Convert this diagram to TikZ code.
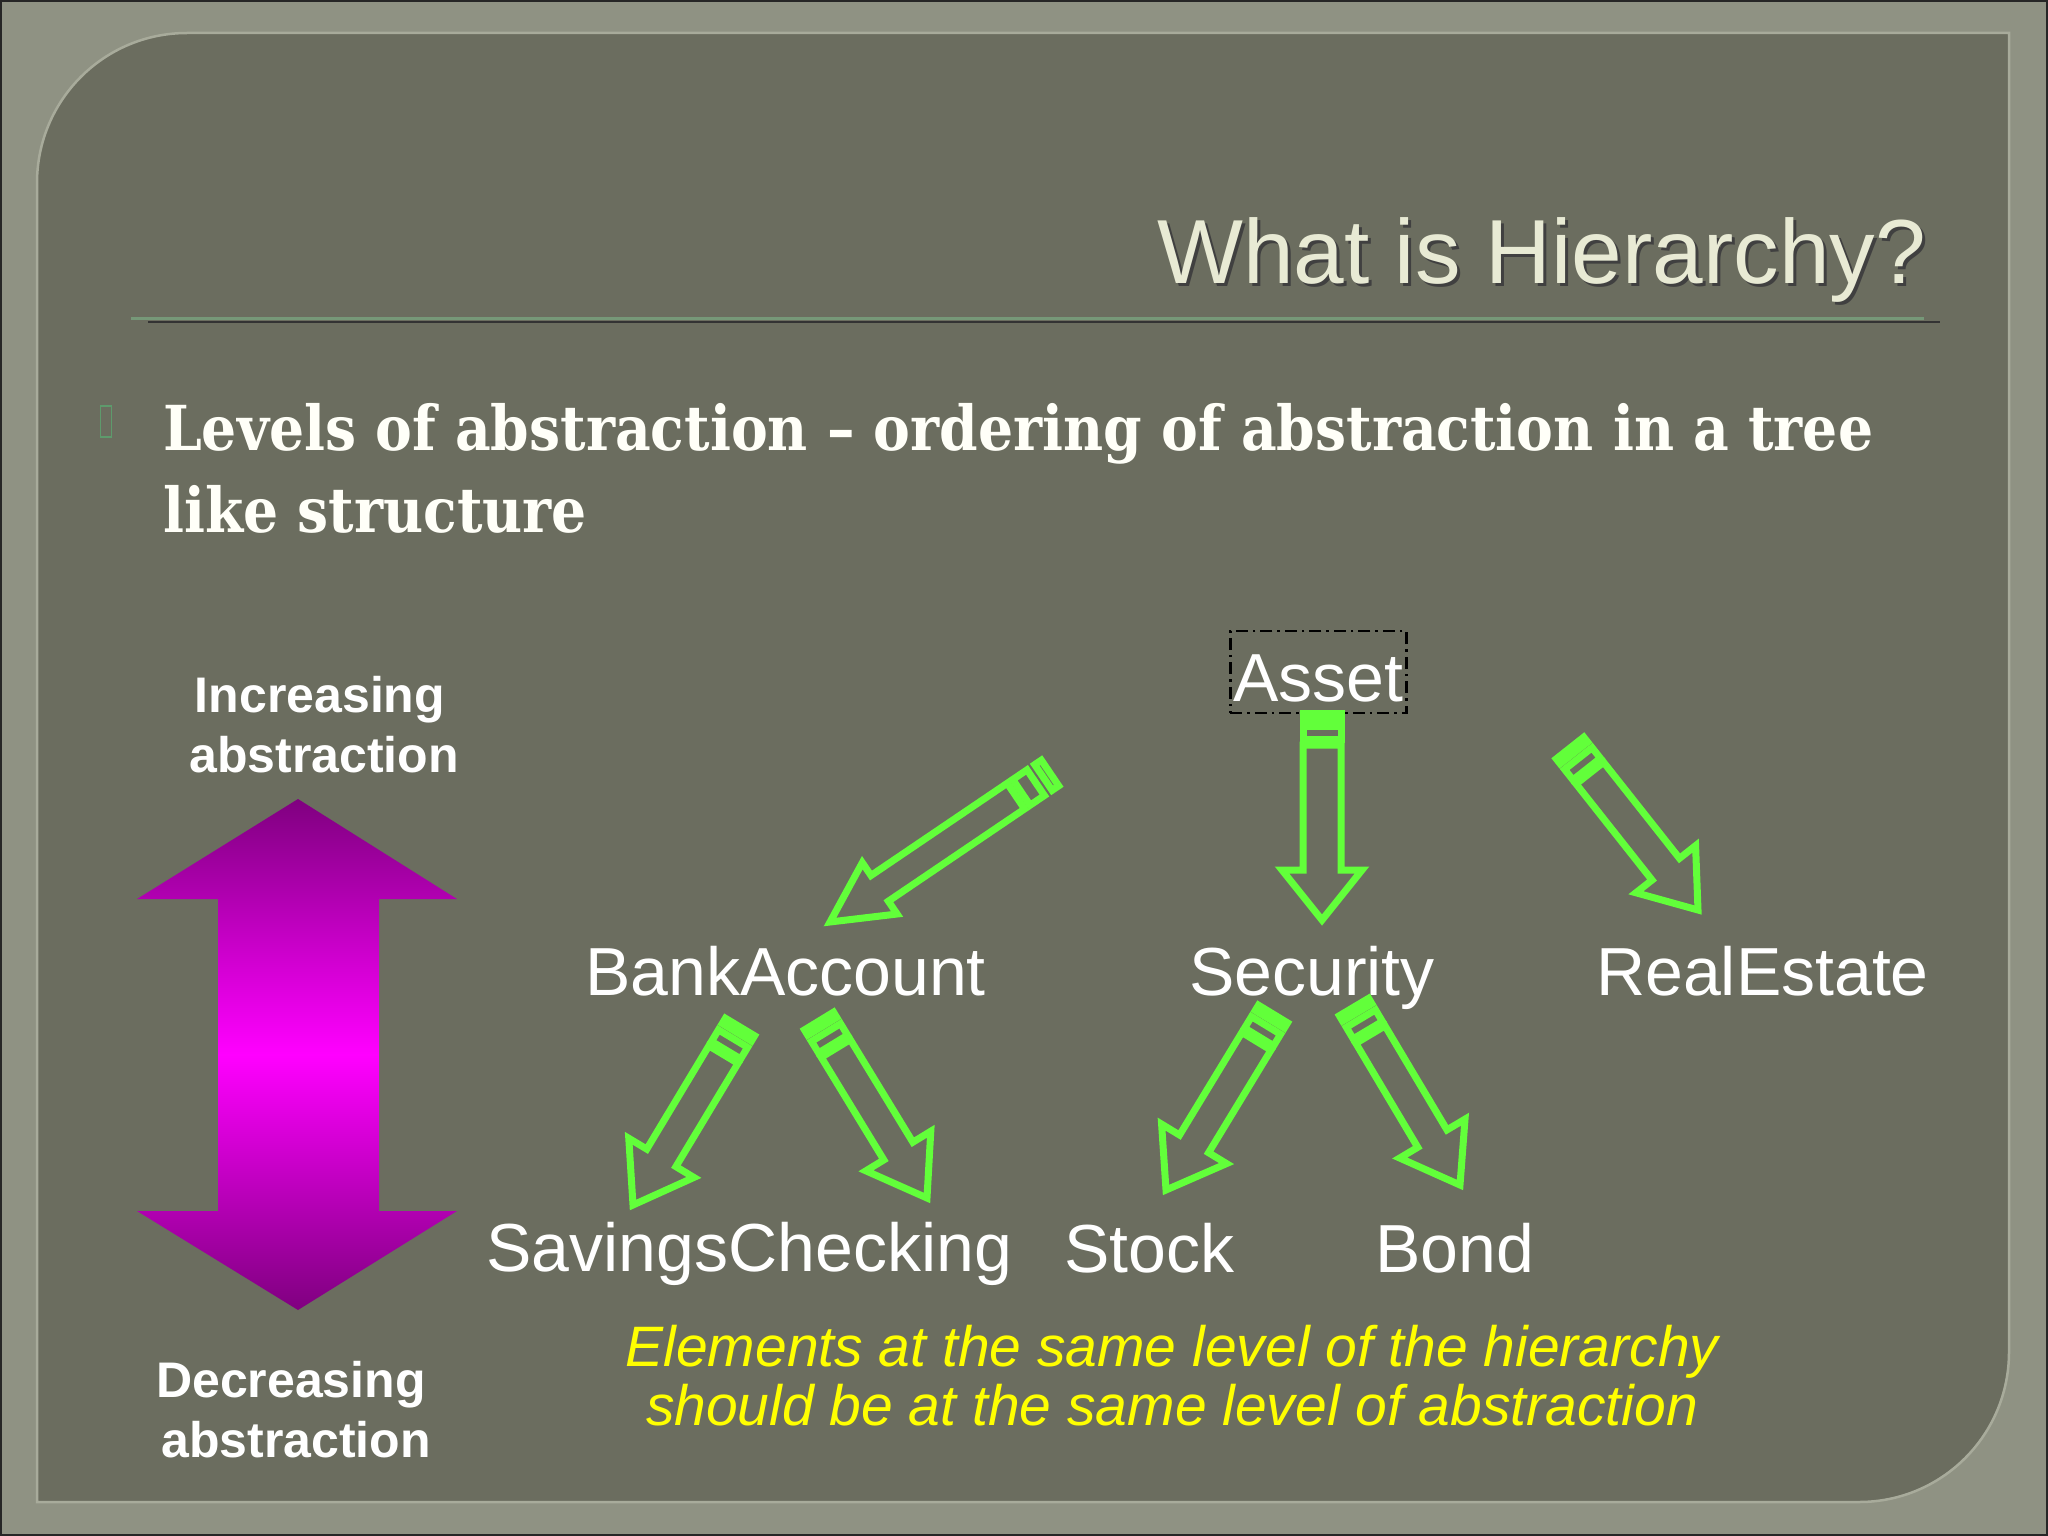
\documentclass[tikz,border=0pt]{standalone}
\usepackage{fontspec}
\setmainfont{Liberation Sans}
\newfontfamily\bodyfont[FakeStretch=0.89]{DejaVu Serif}
\definecolor{outerbg}{RGB}{143,146,131}
\definecolor{panelbg}{RGB}{107,109,95}
\definecolor{paneledge}{RGB}{168,171,155}
\definecolor{titlecol}{RGB}{232,234,212}
\definecolor{rulegreen}{RGB}{118,152,120}
\definecolor{bulletgreen}{RGB}{94,154,108}
\definecolor{arrowgreen}{RGB}{98,255,58}
\definecolor{pdark}{RGB}{128,0,128}
\definecolor{pmid}{RGB}{255,0,255}
\definecolor{yellowtxt}{RGB}{255,255,0}
\newcommand\garrow[5]{%
  \pgfpointanchor{#1}{center}\pgfgetlastxy{\gax}{\gay}%
  \pgfpointanchor{#2}{center}\pgfgetlastxy{\gbx}{\gby}%
  \pgfmathsetmacro\gang{atan2(\gby-\gay,\gbx-\gax)}%
  \pgfmathsetmacro\glen{veclen(\gbx-\gax,\gby-\gay)}%
  \begin{scope}[shift={(#1)},rotate=\gang,x=1pt,y=1pt]
    \draw[garrowline] (0,-#3) rectangle ({0.03*\glen},#3);
    \draw[garrowline] ({0.065*\glen},-#3) rectangle ({0.13*\glen},#3);
    \draw[garrowline] ({0.155*\glen},-#3) -- ({\glen-#5},-#3) -- ({\glen-#5},-#4)
      -- (\glen,0) -- ({\glen-#5},#4) -- ({\glen-#5},#3) -- ({0.155*\glen},#3) -- cycle;
  \end{scope}}
\tikzset{
  garrowline/.style={draw=arrowgreen,line width=7pt,line join=miter},
  treelabel/.style={font=\fontsize{68}{80}\selectfont,text=white,inner sep=0pt,anchor=base west},
  sidelabel/.style={font=\fontsize{50}{60}\selectfont\bfseries,text=white,inner sep=0pt,anchor=base},
  notelabel/.style={font=\fontsize{57}{66}\selectfont\itshape,text=yellowtxt,inner sep=0pt,anchor=base},
  bodytext/.style={font=\fontsize{62}{72}\selectfont\bodyfont\bfseries,text={rgb,255:red,255;green,255;blue,248},inner sep=0pt,anchor=base west},
}
\begin{document}
\begin{tikzpicture}[x=1pt,y=-1pt]
\useasboundingbox (0,0) rectangle (2048,1536);
% outer background
\fill[outerbg] (0,0) rectangle (2048,1536);
\draw[black!85,line width=4pt] (0,0) rectangle (2048,1536);
% panel
\fill[panelbg] (37,1502) -- (37,183) .. controls (37,100) and (104,33) .. (187,33)
  -- (2009,33) -- (2009,1352) .. controls (2009,1435) and (1942,1502) .. (1859,1502) -- cycle;
\draw[paneledge,line width=2.5pt] (37,1502) -- (37,183) .. controls (37,100) and (104,33) .. (187,33)
  -- (2009,33) -- (2009,1352) .. controls (2009,1435) and (1942,1502) .. (1859,1502) -- cycle;
% title
\node[font=\fontsize{91}{100}\selectfont,text=black!75,inner sep=0pt,anchor=base west] (titleshadow) at (1160,286) {What is Hierarchy?};
\node[font=\fontsize{91}{100}\selectfont,text=titlecol,inner sep=0pt,anchor=base west] (title) at (1157,283) {What is Hierarchy?};
\draw[black!80,line width=2.5pt] (148,322) -- (1940,322);
\draw[rulegreen,line width=3pt] (131,318.5) -- (1924,318.5);
% bullet
\draw[bulletgreen,line width=1.5pt] (100.5,406) rectangle (111.5,437);
\node[bodytext] (body1) at (163,450) {Levels of abstraction – ordering of abstraction in a tree};
\node[bodytext] (body2) at (163,532) {like structure};
% left side
\node[sidelabel] (inc1) at (320,712) {Increasing};
\node[sidelabel] (inc2) at (324,772) {abstraction};
\shade[top color=pdark,bottom color=pdark,middle color=pmid]
  (298,799) -- (457,899) -- (379,899) -- (379,1211) -- (457,1211) -- (298,1310)
  -- (137,1211) -- (218,1211) -- (218,899) -- (137,899) -- cycle;
\node[sidelabel] (dec1) at (291,1397) {Decreasing};
\node[sidelabel] (dec2) at (296,1457) {abstraction};
% tree labels
\node[treelabel,draw=black,dash pattern=on 12pt off 5pt on 2.5pt off 5pt,line width=2.5pt,inner xsep=3pt,inner ysep=2pt,text height=68pt,text depth=10pt] (asset) at (1229,701) {Asset};
\node[treelabel] (bank) at (585,995) {BankAccount};
\node[treelabel] (security) at (1189,995) {Security};
\node[treelabel] (realestate) at (1596,995) {RealEstate};
\node[treelabel] (savings) at (486,1271) {Savings};
\node[treelabel,anchor=base west] (checking) at (savings.base east) {Checking};
\node[treelabel] (stock) at (1064,1272) {Stock};
\node[treelabel] (bond) at (1375,1272) {Bond};
% note
\node[notelabel] (note1) at (1172,1366) {Elements at the same level of the hierarchy};
\node[notelabel] (note2) at (1172,1425) {should be at the same level of abstraction};
% arrow end points
\coordinate (aA) at (1050,773);  \coordinate (bA) at (830,922);
\coordinate (aV) at (1322,713);  \coordinate (bV) at (1322,920);
\coordinate (aB) at (1570,748);  \coordinate (bB) at (1698,910);
\coordinate (aC) at (740,1027);  \coordinate (bC) at (633,1205);
\coordinate (aD) at (819,1021);  \coordinate (bD) at (927,1198);
\coordinate (aE) at (1273,1014); \coordinate (bE) at (1166,1190);
\coordinate (aF) at (1354,1007); \coordinate (bF) at (1460,1185);
\garrow{aA}{bA}{15.5}{31}{60}
\garrow{aV}{bV}{19}{40}{50}
\garrow{aB}{bB}{17.5}{38}{52}
\garrow{aC}{bC}{17}{38}{55}
\garrow{aD}{bD}{17}{38}{55}
\garrow{aE}{bE}{17}{38}{54}
\garrow{aF}{bF}{17}{38}{54}
\end{tikzpicture}
\end{document}
